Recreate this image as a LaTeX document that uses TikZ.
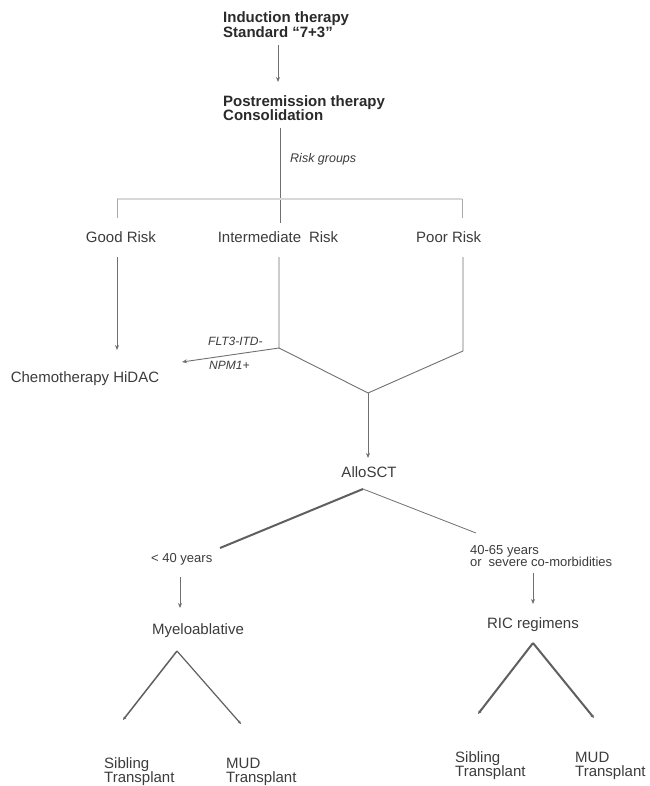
\documentclass[tikz,border=0pt]{standalone}
\usepackage{fontspec}
\setmainfont{Liberation Sans}
\usetikzlibrary{arrows.meta}
\definecolor{linegray}{HTML}{707070}
\definecolor{txtgray}{HTML}{3C3C3C}
\definecolor{titlegray}{HTML}{2A2A2A}
\definecolor{faintgray}{HTML}{D8D8D8}
\tikzset{
  lbl/.style={inner sep=0pt, text=txtgray, font=\fontsize{15}{14}\selectfont},
  small/.style={inner sep=0pt, text=txtgray, font=\fontsize{13}{12.7}\selectfont},
  ital/.style={inner sep=0pt, text=txtgray, font=\fontsize{12.5}{12.5}\selectfont\itshape},
  title/.style={inner sep=0pt, text=titlegray, align=left, font=\fontsize{15}{15}\selectfont\bfseries},
  conn/.style={draw=linegray, line width=0.9pt},
  arr/.style={conn, -{Stealth[length=5pt,width=4pt]}},
  thick branch/.style={draw=linegray!85!black, line width=1.7pt, -{Stealth[length=3.5pt,width=3pt]}, line join=round}
}
\begin{document}
\begin{tikzpicture}[x=1pt,y=-1pt]
\useasboundingbox[fill=white] (0,0) rectangle (649,786);

% text nodes
\node[title, anchor=north west] (induct) at (223,11) {Induction therapy\\Standard “7+3”};
\node[title, anchor=north west, font=\fontsize{15}{14}\selectfont\bfseries] (postrem) at (223,95) {Postremission therapy\\Consolidation};
\node[ital, anchor=base west] (riskgrp) at (290,162.7) {Risk groups};
\node[lbl, anchor=base] (good) at (121,242.5) {Good Risk};
\node[lbl, anchor=base] (inter) at (278,242.5) {Intermediate\hspace{0.25em} Risk};
\node[lbl, anchor=base west] (poor) at (416,242.5) {Poor Risk};
\node[lbl, anchor=base] (chemo) at (85,382.4) {Chemotherapy HiDAC};
\node[ital, anchor=base west, font=\fontsize{12}{12}\selectfont\itshape] (flt) at (208,345) {FLT3-ITD-};
\node[ital, anchor=base west, font=\fontsize{12}{12}\selectfont\itshape] (npm) at (209,369) {NPM1+};
\node[lbl, anchor=base] (allo) at (369,477.5) {AlloSCT};
\node[small, anchor=base west] (young) at (151,562.7) {< 40 years};
\node[small, anchor=north west, align=left] (old) at (470,545) {40-65 years\\or\hspace{0.25em} severe co-morbidities};
\node[lbl, anchor=base] (myelo) at (198,634.4) {Myeloablative};
\node[lbl, anchor=base] (ric) at (533,628) {RIC regimens};
\node[lbl, anchor=north west, align=left] (sib1) at (104,757.5) {Sibling\\Transplant};
\node[lbl, anchor=north west, align=left] (mud1) at (226,757.5) {MUD\\Transplant};
\node[lbl, anchor=north west, align=left] (sib2) at (455,751.5) {Sibling\\Transplant};
\node[lbl, anchor=north west, align=left] (mud2) at (575,751.5) {MUD\\Transplant};

% connector coordinates
\coordinate (a1s) at (278,45);
\coordinate (a1e) at (278,82);
\coordinate (v0s) at (280,128);
\coordinate (v0e) at (280,223);
\coordinate (hl) at (117,199);
\coordinate (hr) at (462,199);
\coordinate (tl) at (117,218);
\coordinate (tr) at (462,218);
\coordinate (g1) at (117,257);
\coordinate (g2) at (117,350);
\coordinate (i1) at (279,257);
\coordinate (ij) at (279,348);
\coordinate (p1) at (463,257);
\coordinate (pj) at (463,351);
\coordinate (mj) at (368,393);
\coordinate (fltend) at (182,362);
\coordinate (a2e) at (368,458);
\coordinate (apex) at (363,489);
\coordinate (bl) at (220,548);
\coordinate (br) at (476,533);
\coordinate (a3s) at (180,577);
\coordinate (a3e) at (180,608);
\coordinate (a4s) at (533,573);
\coordinate (a4e) at (533,604);
\coordinate (ma) at (177,651);
\coordinate (mal) at (123,720);
\coordinate (mar) at (241,724);
\coordinate (ra) at (533,643);
\coordinate (ral) at (478,714);
\coordinate (rar) at (594,718);

% connectors
\draw[arr] (a1s) -- (a1e);
\draw[conn, line width=0.8pt] (v0s) -- (v0e);
\draw[draw=faintgray, line width=1.4pt] (hl) -- (hr);
\draw[draw=linegray!60, line width=0.9pt] (hl) -- (tl);
\draw[draw=linegray!60, line width=0.9pt] (hr) -- (tr);
\draw[arr] (g1) -- (g2);
\draw[conn] (i1) -- (ij) -- (mj);
\draw[conn] (p1) -- (pj) -- (mj);
\draw[arr] (ij) -- (fltend);
\draw[arr] (mj) -- (a2e);
\draw[draw=linegray!85!black, line width=2pt, line join=round] (bl) -- (apex);
\draw[draw=linegray, line width=0.8pt, line join=round] (apex) -- (br);
\draw[arr] (a3s) -- (a3e);
\draw[arr] (a4s) -- (a4e);
\draw[thick branch, line width=1.5pt] (ma) -- (mal);
\draw[thick branch, line width=1.2pt] (ma) -- (mar);
\draw[thick branch, line width=2pt] (ra) -- (ral);
\draw[thick branch, line width=2pt] (ra) -- (rar);
\end{tikzpicture}
\end{document}
